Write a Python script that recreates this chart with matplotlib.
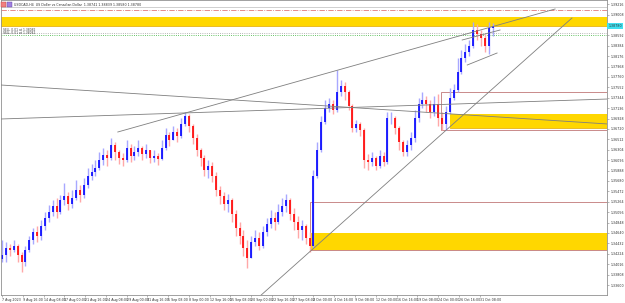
import matplotlib
matplotlib.use('Agg')
import matplotlib.pyplot as plt
import matplotlib.transforms as mtransforms
from matplotlib.patches import Rectangle
import numpy as np

# USDCAD H4, every third bar kept (x = bar number counted from 7 Aug 2023 00:00)
first_open = 1.3412
closes = [1.3420, 1.3434, 1.3430, 1.3438, 1.3420, 1.3406, 1.3430, 1.3450, 1.3466, 1.3458,
          1.3478, 1.3494, 1.3506, 1.3518, 1.3506, 1.3530, 1.3538, 1.3522, 1.3534, 1.3550,
          1.3540, 1.3560, 1.3578, 1.3586, 1.3594, 1.3610, 1.3620, 1.3614, 1.3640, 1.3626,
          1.3614, 1.3610, 1.3634, 1.3618, 1.3626, 1.3634, 1.3622, 1.3630, 1.3614, 1.3618,
          1.3612, 1.3634, 1.3660, 1.3650, 1.3666, 1.3658, 1.3682, 1.3698, 1.3678, 1.3654,
          1.3630, 1.3614, 1.3590, 1.3598, 1.3578, 1.3550, 1.3538, 1.3522, 1.3530, 1.3502,
          1.3474, 1.3458, 1.3434, 1.3414, 1.3446, 1.3454, 1.3438, 1.3466, 1.3482, 1.3494,
          1.3486, 1.3506, 1.3518, 1.3530, 1.3502, 1.3486, 1.3470, 1.3478, 1.3454, 1.3438,
          1.3578, 1.3630, 1.3686, 1.3714, 1.3722, 1.3710, 1.3746, 1.3758, 1.3746, 1.3718,
          1.3674, 1.3682, 1.3670, 1.3610, 1.3606, 1.3614, 1.3598, 1.3618, 1.3606, 1.3694,
          1.3694, 1.3674, 1.3646, 1.3626, 1.3640, 1.3654, 1.3694, 1.3722, 1.3730, 1.3722,
          1.3706, 1.3722, 1.3694, 1.3682, 1.3706, 1.3734, 1.3750, 1.3786, 1.3814, 1.3826,
          1.3838, 1.3870, 1.3862, 1.3854, 1.3838, 1.3874, 1.3878]
highs = [1.3450, 1.3446, 1.3442, 1.3450, 1.3442, 1.3426, 1.3438, 1.3458, 1.3474, 1.3478,
         1.3490, 1.3506, 1.3520, 1.3530, 1.3534, 1.3540, 1.3564, 1.3546, 1.3550, 1.3570,
         1.3560, 1.3574, 1.3594, 1.3602, 1.3610, 1.3626, 1.3634, 1.3630, 1.3654, 1.3646,
         1.3630, 1.3624, 1.3650, 1.3642, 1.3638, 1.3650, 1.3638, 1.3642, 1.3630, 1.3630,
         1.3624, 1.3650, 1.3674, 1.3666, 1.3678, 1.3674, 1.3694, 1.3706, 1.3702, 1.3682,
         1.3662, 1.3634, 1.3620, 1.3610, 1.3606, 1.3586, 1.3558, 1.3546, 1.3542, 1.3534,
         1.3510, 1.3486, 1.3470, 1.3450, 1.3458, 1.3470, 1.3466, 1.3478, 1.3494, 1.3510,
         1.3506, 1.3522, 1.3534, 1.3542, 1.3534, 1.3514, 1.3498, 1.3490, 1.3482, 1.3466,
         1.3590, 1.3646, 1.3698, 1.3730, 1.3734, 1.3730, 1.3790, 1.3770, 1.3766, 1.3750,
         1.3722, 1.3690, 1.3686, 1.3674, 1.3622, 1.3626, 1.3618, 1.3630, 1.3626, 1.3706,
         1.3706, 1.3698, 1.3678, 1.3650, 1.3650, 1.3666, 1.3710, 1.3734, 1.3746, 1.3738,
         1.3730, 1.3738, 1.3742, 1.3706, 1.3718, 1.3754, 1.3762, 1.3814, 1.3830, 1.3842,
         1.3850, 1.3886, 1.3882, 1.3870, 1.3862, 1.3886, 1.3884]
lows = [1.3406, 1.3406, 1.3418, 1.3426, 1.3406, 1.3386, 1.3398, 1.3426, 1.3442, 1.3446,
        1.3450, 1.3470, 1.3486, 1.3498, 1.3494, 1.3502, 1.3520, 1.3510, 1.3514, 1.3530,
        1.3526, 1.3534, 1.3554, 1.3570, 1.3578, 1.3590, 1.3600, 1.3598, 1.3610, 1.3610,
        1.3602, 1.3598, 1.3606, 1.3606, 1.3610, 1.3618, 1.3610, 1.3614, 1.3604, 1.3606,
        1.3600, 1.3610, 1.3630, 1.3638, 1.3650, 1.3646, 1.3654, 1.3678, 1.3666, 1.3642,
        1.3618, 1.3598, 1.3578, 1.3574, 1.3566, 1.3538, 1.3522, 1.3510, 1.3506, 1.3486,
        1.3458, 1.3442, 1.3418, 1.3394, 1.3414, 1.3438, 1.3430, 1.3434, 1.3458, 1.3474,
        1.3470, 1.3482, 1.3498, 1.3506, 1.3490, 1.3470, 1.3454, 1.3450, 1.3442, 1.3426,
        1.3434, 1.3574, 1.3626, 1.3682, 1.3706, 1.3702, 1.3706, 1.3738, 1.3730, 1.3710,
        1.3666, 1.3666, 1.3658, 1.3594, 1.3590, 1.3598, 1.3590, 1.3594, 1.3598, 1.3602,
        1.3682, 1.3662, 1.3630, 1.3618, 1.3618, 1.3630, 1.3646, 1.3686, 1.3714, 1.3706,
        1.3694, 1.3698, 1.3678, 1.3670, 1.3670, 1.3702, 1.3730, 1.3746, 1.3782, 1.3806,
        1.3818, 1.3834, 1.3850, 1.3838, 1.3826, 1.3822, 1.3858]

date_bars = [0, 16, 32, 48, 64, 80, 96, 112, 128, 144, 160, 176,
             192, 208, 224, 240, 256, 272, 288, 304, 320, 336, 352, 368]
date_labels = ['7 Aug 2023', '9 Aug 16:00', '14 Aug 08:00', '17 Aug 00:00', '21 Aug 16:00',
               '24 Aug 08:00', '29 Aug 00:00', '31 Aug 16:00', '5 Sep 08:00', '8 Sep 00:00',
               '12 Sep 16:00', '15 Sep 08:00', '20 Sep 00:00', '22 Sep 16:00', '27 Sep 08:00',
               '2 Oct 00:00', '4 Oct 16:00', '9 Oct 08:00', '12 Oct 00:00', '16 Oct 16:00',
               '19 Oct 08:00', '24 Oct 00:00', '26 Oct 16:00', '31 Oct 08:00']

# trend lines: (bar0, price0, bar1, price1)
trend_lines = [(-1, 1.3760, 467, 1.3682),
               (-1, 1.3692, 467, 1.3732),
               (89.2, 1.3666, 426.2, 1.3912),
               (195.4, 1.3330, 439.2, 1.3894),
               (354.6, 1.3850, 383.8, 1.3870),
               (358.5, 1.3800, 381.5, 1.3824)]
# zones: (bar_start, price_low, price_high)
yellow_zones = [(-1, 1.3878, 1.3896), (345.4, 1.3674, 1.3702), (237.7, 1.3430, 1.3464)]
box_zones = [(338.5, 1.3670, 1.3746), (237.7, 1.3430, 1.3527)]
bid = 1.3878

fig = plt.figure(figsize=(6.25, 3.03), dpi=100)
ax = fig.add_axes([1 / 625, 8 / 303, 606 / 625, 295 / 303])
ax.set_xlim(-0.8, 466.2)
ax.set_ylim(1.3340, 1.3930)

for x0, lo, hi in yellow_zones:
    ax.add_patch(Rectangle((x0, lo), 470 - x0, hi - lo, facecolor='#ffd700',
                           edgecolor='none', zorder=0))
    ax.plot([x0, 470], [lo, lo], color='#e8b000', lw=0.6, zorder=0.5)
for x0, lo, hi in box_zones:
    ax.add_patch(Rectangle((x0, lo), 470 - x0, hi - lo, facecolor='none',
                           edgecolor='#c98a8a', lw=0.7, zorder=0.6))

ax.axhline(1.3916, color='#c8c8c8', lw=0.6, zorder=0.7)
ax.axhline(1.3911, color='#e07878', lw=0.6, ls='-.', zorder=0.7)
ax.axhline(1.3865, color='#a0a0a0', lw=0.6, ls=':', zorder=0.7)
ax.axhline(1.3861, color='#30b030', lw=0.6, ls=':', zorder=0.7)

for x0, p0, x1, p1 in trend_lines:
    ax.plot([x0, x1], [p0, p1], color='#7f7f7f', lw=0.6, zorder=3)

pos = np.arange(len(closes)) * 3
c = np.array(closes)
o = np.array([first_open] + closes[:-1])
h = np.array(highs)
l = np.array(lows)
up = c >= o
dn = ~up
ax.vlines(pos[up], l[up], h[up], color='#a8a8ff', lw=1.0, zorder=2)
ax.vlines(pos[dn], l[dn], h[dn], color='#ffa8a8', lw=1.0, zorder=2)
ax.vlines(pos[up], o[up], c[up] + 0.00005, color='#0000ff', lw=1.2, zorder=2.1)
ax.vlines(pos[dn], c[dn], o[dn] + 0.00005, color='#ff0000', lw=1.2, zorder=2.1)

ax.text(1, 1.3867, 'SELL 0.01 at 1.38082', fontsize=2.2, color='#404040', va='bottom')
ax.text(1, 1.3861, 'SELL 0.01 at 1.38042', fontsize=2.2, color='#404040', va='bottom')

ax.set_xticks(date_bars)
ax.set_xticklabels(date_labels, fontsize=2.3, color='#303030', ha='left')
yt = np.arange(1.3360, 1.3925, 0.00208)
# the bid price box sits on top of the tick nearest to it
ylabels = ['' if abs(v - bid) < 0.0008 else '%.5f' % v for v in yt]
ax.set_yticks(yt)
ax.set_yticklabels(ylabels, fontsize=2.3, color='#303030')
ax.yaxis.tick_right()
ax.tick_params(axis='both', length=1.5, width=0.4, color='#808080', pad=0.8)
for s in ax.spines.values():
    s.set_color('#909090')
    s.set_linewidth(0.6)

tr = mtransforms.blended_transform_factory(ax.transAxes, ax.transData)
ax.text(1.002, bid, '%.5f' % bid, transform=tr, fontsize=2.3, color='#303030', va='center',
        bbox=dict(facecolor='#40e0f0', edgecolor='none', pad=0.6), clip_on=False)

fig.patches.append(Rectangle((1 / 625, 1 - 7 / 303), 5 / 625, 5 / 303, transform=fig.transFigure,
                             facecolor='#f08080', edgecolor='#c04040', lw=0.3))
fig.patches.append(Rectangle((7 / 625, 1 - 7 / 303), 5 / 625, 5 / 303, transform=fig.transFigure,
                             facecolor='#a080e0', edgecolor='#6040a0', lw=0.3))
fig.text(14 / 625, 1 - 4.5 / 303,
         'USDCAD,H4  US Dollar vs Canadian Dollar  1.38741 1.38839 1.38580 1.38780',
         fontsize=2.3, color='#303030', va='center')

fig.savefig('out.png', dpi=100, facecolor='white')
